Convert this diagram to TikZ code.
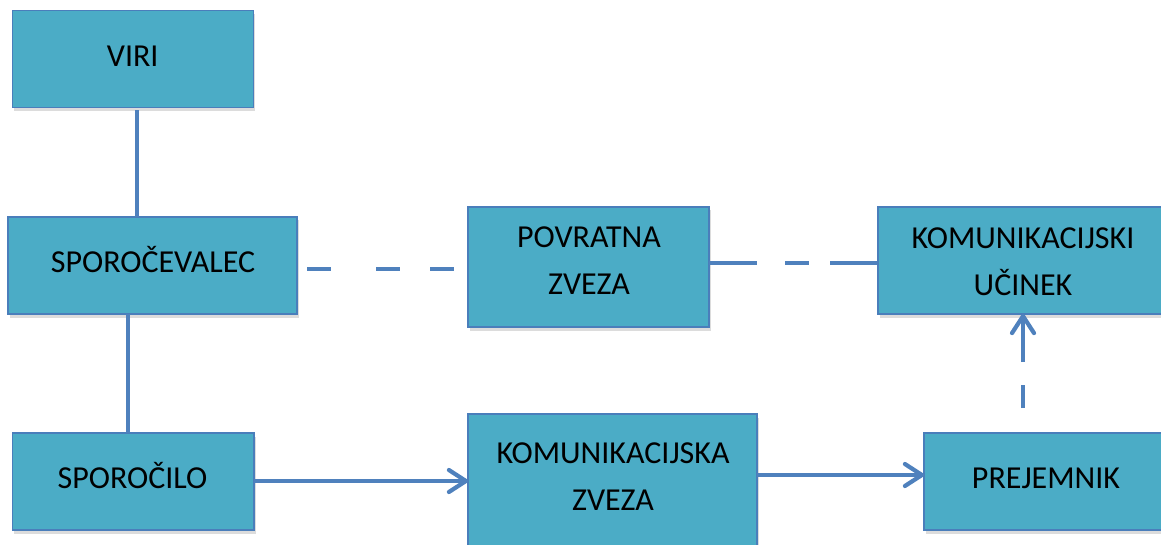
\documentclass[tikz,border=0pt]{standalone}
\usepackage{fontspec}
\setmainfont{Carlito}
\usetikzlibrary{arrows.meta,shadows}
\definecolor{boxfill}{HTML}{4BACC6}
\definecolor{boxline}{HTML}{4A7EBB}
\definecolor{conncol}{HTML}{4F81BD}
\tikzset{
  box/.style={draw=boxline, line width=1.6pt, fill=boxfill, inner sep=0pt, outer sep=0pt,
    drop shadow={shadow xshift=1.5pt, shadow yshift=-3.5pt, opacity=0.28}},
  lbl/.style={font=\fontsize{32}{47}\selectfont, text=black, inner sep=0pt, align=center},
  onel/.style={lbl, text height=20.6pt, text depth=0pt},
  link/.style={draw=conncol, line width=4.2pt},
  arr/.style={link, -{Straight Barb[length=17pt, width=22pt, line cap=round, line join=round]}},
}
\begin{document}
\begin{tikzpicture}[x=1pt, y=-1pt]
\useasboundingbox (0,0) rectangle (1161,545);
\clip (0,0) rectangle (1161,545);
% boxes
\node[box, minimum width=241pt, minimum height=97pt] (viri) at (133,59) {};
\node[box, minimum width=289pt, minimum height=97pt] (spor) at (152.5,265.5) {};
\node[box, minimum width=241.5pt, minimum height=97pt] (sporocilo) at (133.25,481.5) {};
\node[box, minimum width=241pt, minimum height=120pt] (povr) at (588.5,267) {};
\node[box, minimum width=289pt, minimum height=136pt] (kz) at (612.5,482) {};
\node[box, minimum width=290pt, minimum height=107pt] (ucinek) at (1023,260.5) {};
\node[box, minimum width=244pt, minimum height=97pt] (prej) at (1046,481.5) {};
% texts
\node[onel] (viri-t) at (132.7,56) {VIRI};
\node[onel] (spor-t) at (153,262.5) {SPOROČEVALEC};
\node[onel] (sporocilo-t) at (132.5,478) {SPOROČILO};
\node[onel] (prej-t) at (1046,478) {PREJEMNIK};
\node[lbl] (povr-t) at (589,261) {POVRATNA\\ZVEZA};
\node[lbl] (kz-t) at (613,477) {KOMUNIKACIJSKA\\ZVEZA};
\node[lbl] (ucinek-t) at (1023,261.5) {KOMUNIKACIJSKI\\UČINEK};
% connectors
\coordinate (v1) at ([xshift=4pt]viri.south);
\draw[link, shorten <=3pt] (v1) -- (v1 |- spor.north);
\coordinate (v2) at ([xshift=-5pt]sporocilo.north);
\draw[link] (v2 |- spor.south) -- (v2);
\coordinate (d1) at ([yshift=-3.5pt]spor.east);
\draw[link, dash pattern=on 24pt off 45pt on 24pt off 30pt on 24pt, shorten <=10pt, shorten >=14pt] (d1) -- (d1 -| povr.west);
\coordinate (d2) at ([yshift=-2.5pt]ucinek.west);
\draw[link, dash pattern=on 48pt off 28pt on 24pt off 21pt on 47pt] (d2 -| povr.east) -- (d2);
\coordinate (a1) at ([yshift=0.5pt]sporocilo.east);
\draw[arr] (a1) -- (a1 -| kz.west);
\coordinate (a2) at ([yshift=6.5pt]prej.west);
\draw[arr] (a2 -| kz.east) -- (a2);
\coordinate (a3) at (ucinek.south |- prej.north);
\draw[arr, dash pattern=on 23pt off 23pt on 80pt, shorten <=25pt] (a3) -- (ucinek.south);
\end{tikzpicture}
\end{document}
